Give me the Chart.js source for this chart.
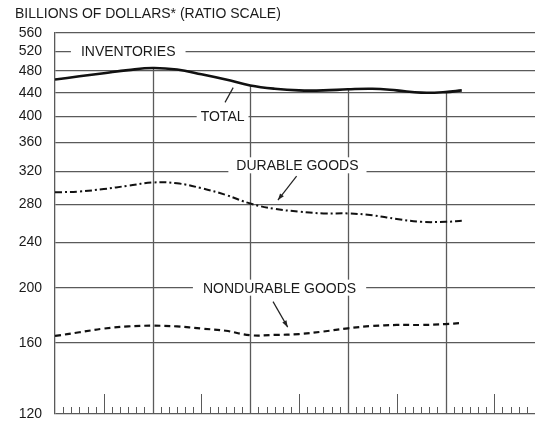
<!DOCTYPE html>
<html>
<head>
<meta charset="utf-8">
<script src="https://cdn.jsdelivr.net/npm/chart.js@4"></script>
<style>
  html, body { margin: 0; padding: 0; background: #fff; }
</style>
</head>
<body>
<canvas id="chart" width="535" height="421"></canvas>
<script>
// months counted from the left edge, a year mark every 12
const months = [0, 3, 6, 9, 12, 15, 18, 21, 24, 27, 30, 33, 36, 39, 42, 45, 48, 50];
const totalInv = [464, 470, 476, 482, 486, 483, 474, 464, 453, 447, 444, 444, 446, 447, 444, 440, 441, 444];
const durableInv = [294, 295, 298, 302, 306, 305, 299, 291, 281, 275, 272, 270, 270, 268, 264, 261, 261, 262];
const nondurableInv = [164.5, 167, 169.5, 171, 171.5, 171, 169.5, 168, 165, 165.2, 165.8, 167.5, 169.7, 171.3, 172, 172, 172.6, 173.4];
const yTicks = [120, 160, 200, 240, 280, 320, 360, 400, 440, 480, 520, 560];
const yearMarks = [12, 24, 36, 48];

const gridColor = '#5a5a5a';
const textColor = '#1a1a1a';
const fontFamily = '"Liberation Sans", Arial, sans-serif';

// text set into the grid, placed in data units
const notes = [
  { text: 'INVENTORIES', x: 9, y: 520, pad: 10 },
  { text: 'TOTAL', x: 20.6, y: 400, pad: 4 },
  { text: 'DURABLE GOODS', x: 29.8, y: 328, pad: 8 },
  { text: 'NONDURABLE GOODS', x: 27.6, y: 200, pad: 10 }
];
const leaders = [
  { from: [20.9, 423], to: [21.9, 449], head: false },
  { from: [29.7, 314], to: [27.4, 285], head: true },
  { from: [26.8, 189], to: [28.6, 170.5], head: true }
];

const series = vals => months.map((m, i) => ({ x: m, y: vals[i] }));

const decor = {
  id: 'decor',
  beforeDatasetsDraw(chart) {
    const { ctx, chartArea, scales: { x, y } } = chart;
    const totalPts = chart.getDatasetMeta(0).data;
    ctx.save();
    ctx.strokeStyle = gridColor;
    ctx.lineWidth = 1.3;
    // year lines only run up to the total curve
    yearMarks.forEach(m => {
      const px = Math.round(x.getPixelForValue(m)) + 0.5;
      const top = totalPts[months.indexOf(m)].y;
      ctx.beginPath();
      ctx.moveTo(px, top);
      ctx.lineTo(px, chartArea.bottom);
      ctx.stroke();
    });
    // month ticks, longer at mid-year
    ctx.lineWidth = 1;
    for (let m = 1; m < x.max; m++) {
      if (m % 12 === 0) continue;
      const len = m % 12 === 6 ? 20 : 7;
      const px = Math.round(x.getPixelForValue(m)) + 0.5;
      ctx.beginPath();
      ctx.moveTo(px, chartArea.bottom);
      ctx.lineTo(px, chartArea.bottom - len);
      ctx.stroke();
    }
    ctx.font = '14px ' + fontFamily;
    ctx.textAlign = 'center';
    ctx.textBaseline = 'middle';
    notes.forEach(n => {
      const w = ctx.measureText(n.text).width;
      const cx = x.getPixelForValue(n.x);
      const cy = y.getPixelForValue(n.y);
      ctx.fillStyle = '#fff';
      ctx.fillRect(cx - w / 2 - n.pad, cy - 8, w + 2 * n.pad, 16);
      ctx.fillStyle = textColor;
      ctx.fillText(n.text, cx, cy + 1);
    });
    ctx.restore();
  },
  afterDatasetsDraw(chart) {
    const { ctx, scales: { x, y } } = chart;
    ctx.save();
    ctx.strokeStyle = '#222';
    ctx.fillStyle = '#222';
    ctx.lineWidth = 1.2;
    leaders.forEach(l => {
      const x1 = x.getPixelForValue(l.from[0]), y1 = y.getPixelForValue(l.from[1]);
      const x2 = x.getPixelForValue(l.to[0]), y2 = y.getPixelForValue(l.to[1]);
      ctx.beginPath();
      ctx.moveTo(x1, y1);
      ctx.lineTo(x2, y2);
      ctx.stroke();
      if (l.head) {
        const a = Math.atan2(y2 - y1, x2 - x1);
        ctx.beginPath();
        ctx.moveTo(x2, y2);
        ctx.lineTo(x2 - 7 * Math.cos(a - 0.35), y2 - 7 * Math.sin(a - 0.35));
        ctx.lineTo(x2 - 7 * Math.cos(a + 0.35), y2 - 7 * Math.sin(a + 0.35));
        ctx.closePath();
        ctx.fill();
      }
    });
    ctx.restore();
  }
};

new Chart(document.getElementById('chart'), {
  type: 'line',
  data: {
    datasets: [
      { label: 'Total', data: series(totalInv), borderColor: '#111', borderWidth: 2.6, pointRadius: 0, tension: 0.4 },
      { label: 'Durable goods', data: series(durableInv), borderColor: '#111', borderWidth: 2, borderDash: [7, 3, 2, 3], pointRadius: 0, tension: 0.4 },
      { label: 'Nondurable goods', data: series(nondurableInv), borderColor: '#111', borderWidth: 2.2, borderDash: [6, 4], pointRadius: 0, tension: 0.4 }
    ]
  },
  options: {
    responsive: false,
    animation: false,
    layout: { padding: { left: 15, right: 0, top: 0, bottom: 5 } },
    plugins: {
      legend: { display: false },
      tooltip: { enabled: false },
      title: {
        display: true,
        text: 'BILLIONS OF DOLLARS* (RATIO SCALE)',
        align: 'start',
        color: textColor,
        font: { family: fontFamily, size: 14, weight: 'normal', lineHeight: 1 },
        padding: { top: 7, bottom: 12 }
      }
    },
    scales: {
      x: { type: 'linear', display: false, min: 0, max: 59 },
      y: {
        type: 'logarithmic',
        min: 120,
        max: 560,
        afterBuildTicks: s => { s.ticks = yTicks.map(v => ({ value: v })); },
        afterFit: s => { s.width = 40; },
        grid: { color: gridColor, lineWidth: 1.3, drawTicks: true, tickLength: 13, tickColor: 'rgba(0,0,0,0)' },
        border: { color: gridColor, width: 1.3 },
        ticks: {
          padding: 0,
          color: textColor,
          font: { family: fontFamily, size: 14, lineHeight: 1 },
          callback: v => String(v)
        }
      }
    }
  },
  plugins: [decor]
});
</script>
</body>
</html>
